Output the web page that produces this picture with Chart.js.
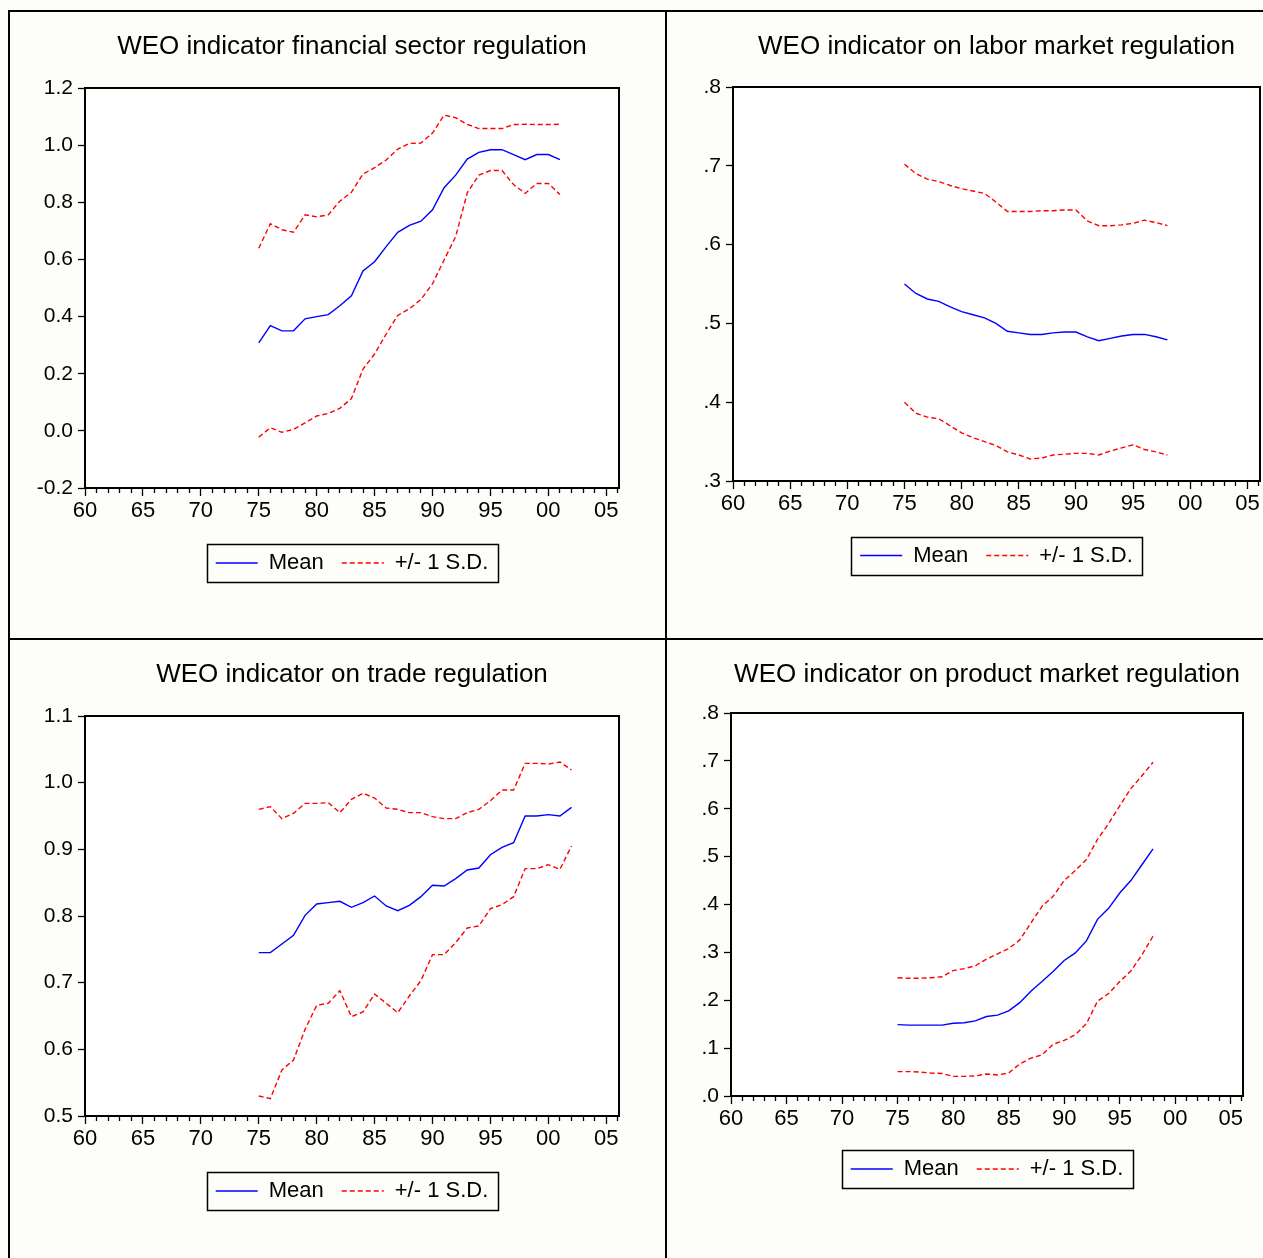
<!DOCTYPE html>
<html>
<head>
<meta charset="utf-8">
<script src="https://cdn.jsdelivr.net/npm/chart.js@4.4.1/dist/chart.umd.min.js"></script>
<style>
html,body{margin:0;padding:0;background:#fdfdfa;}
#wrap{position:relative;width:1263px;height:1258px;overflow:hidden;}
.ln{position:absolute;background:#000;}
canvas{position:absolute;}
</style>
</head>
<body>
<div id="wrap">
  <div class="ln" style="left:8px;top:10px;width:1255px;height:2px"></div>
  <div class="ln" style="left:8px;top:10px;width:2px;height:1248px"></div>
  <div class="ln" style="left:665px;top:10px;width:2px;height:1248px"></div>
  <div class="ln" style="left:8px;top:638px;width:1255px;height:2px"></div>
  <canvas id="cA"></canvas>
  <canvas id="cB"></canvas>
  <canvas id="cC"></canvas>
  <canvas id="cD"></canvas>
</div>
<script>
// ---------------- DATA ----------------
const finYears  = [1975,1976,1977,1978,1979,1980,1981,1982,1983,1984,1985,1986,1987,1988,1989,1990,1991,1992,1993,1994,1995,1996,1997,1998,1999,2000,2001];
const finMean   = [0.308,0.368,0.350,0.350,0.392,0.400,0.407,0.438,0.473,0.560,0.592,0.645,0.695,0.719,0.734,0.774,0.851,0.895,0.951,0.975,0.984,0.984,0.967,0.949,0.967,0.967,0.949];
const finUpper  = [0.639,0.725,0.704,0.695,0.756,0.749,0.756,0.804,0.835,0.899,0.921,0.948,0.986,1.006,1.007,1.042,1.105,1.096,1.073,1.058,1.058,1.058,1.072,1.073,1.072,1.072,1.073];
const finLower  = [-0.022,0.011,-0.005,0.005,0.028,0.052,0.061,0.079,0.113,0.216,0.269,0.339,0.404,0.427,0.460,0.515,0.598,0.680,0.833,0.895,0.911,0.911,0.862,0.831,0.866,0.866,0.827];

const labYears  = [1975,1976,1977,1978,1979,1980,1981,1982,1983,1984,1985,1986,1987,1988,1989,1990,1991,1992,1993,1994,1995,1996,1997,1998];
const labMean   = [0.550,0.538,0.531,0.528,0.521,0.515,0.511,0.507,0.500,0.490,0.488,0.486,0.486,0.488,0.489,0.489,0.483,0.478,0.481,0.484,0.486,0.486,0.483,0.479];
const labUpper  = [0.702,0.690,0.683,0.680,0.675,0.671,0.668,0.665,0.654,0.642,0.642,0.642,0.643,0.643,0.644,0.644,0.630,0.624,0.624,0.625,0.627,0.631,0.628,0.624];
const labLower  = [0.400,0.386,0.381,0.379,0.370,0.361,0.355,0.350,0.345,0.337,0.333,0.328,0.329,0.333,0.334,0.335,0.335,0.333,0.338,0.342,0.346,0.340,0.337,0.333];

const trYears   = [1975,1976,1977,1978,1979,1980,1981,1982,1983,1984,1985,1986,1987,1988,1989,1990,1991,1992,1993,1994,1995,1996,1997,1998,1999,2000,2001,2002];
const trMean    = [0.745,0.745,0.758,0.771,0.801,0.818,0.820,0.822,0.813,0.820,0.830,0.815,0.808,0.816,0.829,0.846,0.845,0.856,0.869,0.872,0.892,0.903,0.910,0.950,0.950,0.952,0.950,0.963];
const trUpper   = [0.960,0.964,0.946,0.954,0.969,0.969,0.970,0.955,0.975,0.984,0.977,0.962,0.960,0.955,0.955,0.949,0.946,0.946,0.955,0.960,0.973,0.989,0.989,1.029,1.029,1.028,1.031,1.019];
const trLower   = [0.530,0.526,0.569,0.584,0.630,0.666,0.669,0.688,0.649,0.656,0.683,0.669,0.655,0.680,0.703,0.742,0.742,0.760,0.782,0.785,0.811,0.817,0.829,0.871,0.871,0.877,0.870,0.905];

const pmYears   = [1975,1976,1977,1978,1979,1980,1981,1982,1983,1984,1985,1986,1987,1988,1989,1990,1991,1992,1993,1994,1995,1996,1997,1998];
const pmMean    = [0.149,0.148,0.148,0.148,0.148,0.152,0.153,0.157,0.166,0.169,0.178,0.195,0.219,0.239,0.260,0.283,0.299,0.324,0.369,0.392,0.424,0.450,0.483,0.516];
const pmUpper   = [0.247,0.246,0.246,0.247,0.249,0.262,0.266,0.272,0.286,0.297,0.308,0.326,0.361,0.396,0.417,0.450,0.471,0.494,0.536,0.569,0.606,0.642,0.669,0.697];
const pmLower   = [0.051,0.051,0.050,0.048,0.047,0.041,0.041,0.042,0.046,0.044,0.048,0.067,0.079,0.086,0.108,0.116,0.128,0.151,0.198,0.214,0.239,0.261,0.295,0.334];

const titles = [
  "WEO indicator financial sector regulation",
  "WEO indicator on labor market regulation",
  "WEO indicator on trade regulation",
  "WEO indicator on product market regulation"
];
const legendMean = "Mean";
const legendSD = "+/- 1 S.D.";

// ---------------- STYLE / LAYOUT ----------------
const FONT = "'Liberation Sans', Arial, Helvetica, sans-serif";
const TITLE_SIZE = 26, XTICK_SIZE = 22, YTICK_SIZE = 21, LEG_SIZE = 22, LEG_PAD = 18;
const LINE_W = 1.4;

const clean = v => (Math.abs(v) < 1e-9 ? 0 : Number(v));
const fmtLead = v => { const s = clean(v).toFixed(1); return s.startsWith('0.') ? s.slice(1) : s; };
const fmtFull = v => clean(v).toFixed(1);

const framePlugin = {
  id: 'frame',
  beforeDraw(chart) {
    const {ctx, chartArea: a} = chart;
    ctx.save(); ctx.fillStyle = '#ffffff';
    ctx.fillRect(a.left, a.top, a.width, a.height); ctx.restore();
  },
  afterDraw(chart) {
    const {ctx, chartArea: a} = chart;
    ctx.save();
    ctx.strokeStyle = '#000'; ctx.lineWidth = 2;
    ctx.strokeRect(a.left, a.top, a.width, a.height);
    const hb = chart.legend && chart.legend.legendHitBoxes;
    if (hb && hb.length) {
      const last = hb[hb.length - 1];
      const l = hb[0].left - 9, r = last.left + last.width + 9;
      const cy = hb[0].top + hb[0].height / 2;
      ctx.lineWidth = 1.5;
      ctx.strokeRect(Math.round(l) + 0.5, Math.round(cy - 19) + 0.5, Math.round(r - l), 38);
    }
    ctx.restore();
  }
};

function pts(xs, ys) { return xs.map((x, i) => ({x: x, y: ys[i]})); }

function legendLabels(chart) {
  const base = Chart.defaults.plugins.legend.labels.generateLabels(chart);
  return base.filter(it => it.datasetIndex < 2).map(it => {
    const ds = chart.data.datasets[it.datasetIndex];
    it.lineDash = ds.borderDash || [];
    it.lineWidth = ds.borderWidth;
    it.strokeStyle = ds.borderColor;
    it.fillStyle = ds.borderColor;
    return it;
  });
}

function build(p) {
  const cv = document.getElementById(p.id);
  cv.width = p.box.w; cv.height = p.box.h;
  cv.style.left = p.box.x + 'px'; cv.style.top = p.box.y + 'px';
  cv.style.width = p.box.w + 'px'; cv.style.height = p.box.h + 'px';
  const relT = p.plot.t - p.box.y, relB = p.plot.b - p.box.y;
  const lh = TITLE_SIZE * 1.2;
  const tPadTop = (p.titleY - p.box.y) - lh / 2;
  const tPadBot = relT - tPadTop - lh;
  const legH = LEG_SIZE + LEG_PAD + 10;
  const legTop = (p.legendY - p.box.y) - LEG_PAD - LEG_SIZE / 2;
  const xH = legTop - relB;
  const padBottom = p.box.h - legTop - legH;
  const yW = p.plot.l - p.box.x;
  const padRight = p.box.x + p.box.w - p.plot.r;

  new Chart(cv, {
    type: 'line',
    data: {
      datasets: [
        {label: legendMean, data: pts(p.years, p.mean), borderColor: '#0000ff', backgroundColor: '#0000ff', borderWidth: LINE_W, pointRadius: 0, tension: 0, fill: false},
        {label: legendSD, data: pts(p.years, p.upper), borderColor: '#ff0000', backgroundColor: '#ff0000', borderWidth: LINE_W, borderDash: [5, 3], pointRadius: 0, tension: 0, fill: false},
        {label: legendSD, data: pts(p.years, p.lower), borderColor: '#ff0000', backgroundColor: '#ff0000', borderWidth: LINE_W, borderDash: [5, 3], pointRadius: 0, tension: 0, fill: false}
      ]
    },
    options: {
      responsive: false, animation: false, events: [],
      layout: {padding: {left: 0, right: padRight, top: 0, bottom: padBottom}},
      plugins: {
        title: {display: true, text: p.title, fullSize: false, color: '#000',
                font: {family: FONT, size: TITLE_SIZE, weight: 'normal'},
                padding: {top: tPadTop, bottom: tPadBot}},
        legend: {display: true, position: 'bottom', fullSize: false,
                 labels: {usePointStyle: true, pointStyle: 'line', pointStyleWidth: 42, color: '#000',
                          font: {family: FONT, size: LEG_SIZE}, padding: LEG_PAD,
                          generateLabels: legendLabels}},
        tooltip: {enabled: false}
      },
      scales: {
        x: {
          type: 'linear', position: 'bottom', min: 1960, max: 2006.1,
          afterFit: s => { s.height = xH; },
          border: {display: true, color: '#000', width: 2},
          grid: {drawOnChartArea: false, color: '#000', tickColor: '#000', tickLength: 8, tickWidth: 1.3,
                 tickBorderDash: c => (c.tick && Math.round(c.tick.value) % 5 === 0) ? [] : [4, 100]},
          ticks: {stepSize: 1, autoSkip: false, maxRotation: 0, minRotation: 0, includeBounds: false,
                  padding: 2, color: '#000', font: {family: FONT, size: XTICK_SIZE},
                  callback: v => (Math.round(v) % 5 === 0) ? String(Math.round(v) % 100).padStart(2, '0') : ''}
        },
        y: {
          type: 'linear', position: 'left', min: p.yMin, max: p.yMax,
          afterFit: s => { s.width = yW; },
          border: {display: true, color: '#000', width: 2},
          grid: {drawOnChartArea: false, color: '#000', tickColor: '#000', tickLength: 7, tickWidth: 1.3},
          ticks: {stepSize: p.yStep, padding: 5, color: '#000', font: {family: FONT, size: YTICK_SIZE},
                  callback: p.yFmt}
        }
      }
    },
    plugins: [framePlugin]
  });
}

build({id: 'cA', box: {x: 11, y: 13, w: 653, h: 624}, plot: {l: 85, r: 619, t: 88, b: 488},
       titleY: 47, legendY: 563, title: titles[0], yMin: -0.2, yMax: 1.2, yStep: 0.2, yFmt: fmtFull,
       years: finYears, mean: finMean, upper: finUpper, lower: finLower});
build({id: 'cB', box: {x: 667, y: 13, w: 596, h: 624}, plot: {l: 733, r: 1260, t: 87, b: 481},
       titleY: 46.5, legendY: 555.5, title: titles[1], yMin: 0.3, yMax: 0.8, yStep: 0.1, yFmt: fmtLead,
       years: labYears, mean: labMean, upper: labUpper, lower: labLower});
build({id: 'cC', box: {x: 11, y: 640, w: 653, h: 618}, plot: {l: 85, r: 619, t: 716, b: 1116},
       titleY: 674.5, legendY: 1191, title: titles[2], yMin: 0.5, yMax: 1.1, yStep: 0.1, yFmt: fmtFull,
       years: trYears, mean: trMean, upper: trUpper, lower: trLower});
build({id: 'cD', box: {x: 667, y: 640, w: 596, h: 618}, plot: {l: 731, r: 1243, t: 713, b: 1096},
       titleY: 674.5, legendY: 1169, title: titles[3], yMin: 0.0, yMax: 0.8, yStep: 0.1, yFmt: fmtLead,
       years: pmYears, mean: pmMean, upper: pmUpper, lower: pmLower});
</script>
</body>
</html>
